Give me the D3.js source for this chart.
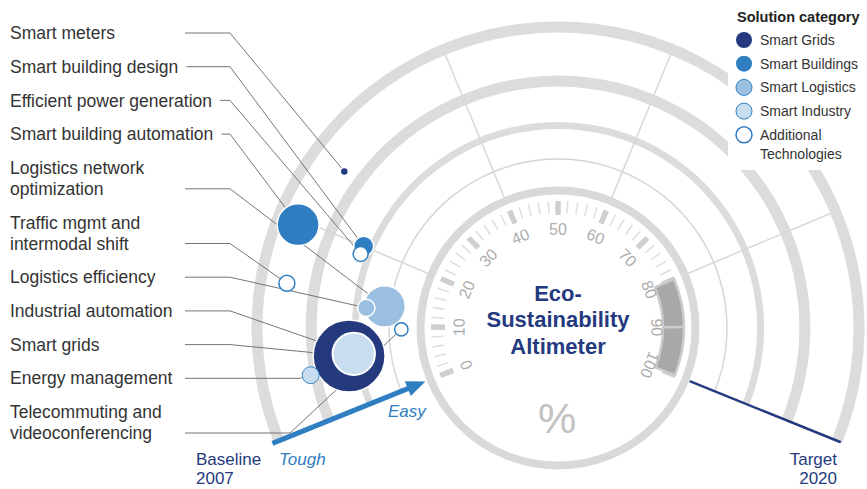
<!DOCTYPE html>
<html>
<head>
<meta charset="utf-8">
<script src="https://cdn.jsdelivr.net/npm/d3@7"></script>
<style>
  body { margin: 0; background: #fff; }
  svg { display: block; font-family: "Liberation Sans", Arial, Helvetica, sans-serif; }
</style>
</head>
<body>
<div id="chart"></div>
<script>
// Technologies, top to bottom as listed on the left
var technologies = ["Smart meters", "Smart building design", "Efficient power generation",
    "Smart building automation", "Logistics network\noptimization", "Traffic mgmt and\nintermodal shift",
    "Logistics efficiency", "Industrial automation", "Smart grids", "Energy management",
    "Telecommuting and\nvideoconferencing"];
var techCategory = ["Smart Grids", "Smart Buildings", "Additional Technologies", "Smart Buildings",
    "Smart Logistics", "Additional Technologies", "Smart Logistics", "Smart Industry",
    "Smart Grids", "Smart Industry", "Additional Technologies"];
// position on the altimeter dial (%), 0 = baseline 2007, 100 = target 2020
var progress = [26, 20, 19, 19.5, 13, 14, 12.5, 6.6, 6.4, 5, 9.6];
// distance from the dial: 0 = easy (inner), 100 = tough (outer)
var difficulty = [78, 45, 45, 87, 23, 84, 34, 42, 45, 70, 12];
// bubble size
var potential = [0.16, 1.0, 0.56, 4.4, 4.3, 0.64, 0.76, 4.5, 13, 0.72, 0.45];

var categories = ["Smart Grids", "Smart Buildings", "Smart Logistics", "Smart Industry", "Additional Technologies"];
var dialLabels = [0, 10, 20, 30, 40, 50, 60, 70, 80, 90, 100];
var ringLevels = [19.5, 40, 67, 100];
var sectorLines = [20, 40, 60, 80];

var width = 867, height = 489;
var cx = 558, cy = 328;
var dialR = 137.5;

var catFill = {"Smart Grids": "#253a7e", "Smart Buildings": "#2f7ec1", "Smart Logistics": "#9bbfe1",
    "Smart Industry": "#c8ddf0", "Additional Technologies": "#ffffff"};
var navy = "#253a7e", blue = "#2f7ec1";

var svg = d3.select("#chart").append("svg")
    .attr("width", width)
    .attr("height", height);

// scales
var angle = d3.scaleLinear().domain([0, 100]).range([-112, 112]);      // degrees from 12 o'clock
var radius = d3.scaleLinear().domain([0, 100]).range([137, 301]);
var size = d3.scaleSqrt().domain([0, 13]).range([0, 36]);
var rad = function(deg) { return deg * Math.PI / 180; };
function polar(p, r) {
    var a = rad(angle(p));
    return [cx + r * Math.sin(a), cy - r * Math.cos(a)];
}

var g = svg.append("g").attr("transform", "translate(" + cx + "," + cy + ")");

// concentric rings
var ringWidth = [1.5, 7, 11, 11];
ringLevels.forEach(function(lv, i) {
    var r = radius(lv);
    g.append("path")
        .attr("d", d3.arc()({innerRadius: r - ringWidth[i] / 2, outerRadius: r + ringWidth[i] / 2,
            startAngle: rad(angle(0)), endAngle: rad(angle(100))}))
        .attr("fill", i == 0 ? "#d6d6d6" : "#dcdcdc");
});

// sector separators
sectorLines.forEach(function(p) {
    g.append("line")
        .attr("transform", "rotate(" + angle(p) + ")")
        .attr("x1", 0).attr("y1", -dialR)
        .attr("x2", 0).attr("y2", -(radius(100) - 5))
        .attr("stroke", "#d9d9d9").attr("stroke-width", 1.5);
});

// dial
g.append("circle")
    .attr("r", dialR)
    .attr("fill", "#fff")
    .attr("stroke", "#d9d9d9")
    .attr("stroke-width", 8);

// ticks every 2%
d3.range(0, 101, 2).forEach(function(p) {
    var major = p % 10 == 0;
    g.append("line")
        .attr("transform", "rotate(" + angle(p) + ")")
        .attr("x1", 0).attr("y1", major ? -113 : -115)
        .attr("x2", 0).attr("y2", -127)
        .attr("stroke", major ? "#cfcfcf" : "#dedede")
        .attr("stroke-width", major ? 5.5 : 1.5);
});

// 80-100 band
g.append("path")
    .attr("d", d3.arc()({innerRadius: 105, outerRadius: 126,
        startAngle: rad(angle(80)), endAngle: rad(angle(100))}))
    .attr("fill", "#a8a8a8")
    .attr("stroke", "#cbcbcb")
    .attr("stroke-width", 2.5);
g.append("line")
    .attr("transform", "rotate(" + angle(90) + ")")
    .attr("x1", 0).attr("y1", -104).attr("x2", 0).attr("y2", -127)
    .attr("stroke", "#cbcbcb").attr("stroke-width", 2.5);

// dial numbers
dialLabels.forEach(function(p) {
    g.append("g")
        .attr("transform", "rotate(" + angle(p) + ") translate(0," + (-99) + ")")
        .append("text")
        .attr("text-anchor", "middle")
        .attr("dy", "0.35em")
        .attr("fill", "#adadad")
        .style("font-size", "16px")
        .text(p);
});

// title
["Eco-", "Sustainability", "Altimeter"].forEach(function(t, i) {
    g.append("text")
        .attr("x", 0).attr("y", -35 + i * 26.7)
        .attr("dy", "0.35em")
        .attr("text-anchor", "middle")
        .attr("fill", navy)
        .style("font-size", "22px")
        .style("font-weight", "bold")
        .text(t);
});
g.append("text")
    .attr("x", -1).attr("y", 90)
    .attr("dy", "0.35em")
    .attr("text-anchor", "middle")
    .attr("fill", "#c2c2c2")
    .style("font-size", "43px")
    .text("%");

// baseline arrow (tough -> easy)
var arrow = g.append("g").attr("transform", "rotate(" + angle(0) + ")");
arrow.append("line")
    .attr("x1", 0).attr("y1", -308)
    .attr("x2", 0).attr("y2", -158)
    .attr("stroke", blue).attr("stroke-width", 5);
arrow.append("path")
    .attr("d", "M0,-143 L-8,-162 L8,-162 Z")
    .attr("fill", blue);

// target line
g.append("line")
    .attr("transform", "rotate(" + angle(100) + ")")
    .attr("x1", 0).attr("y1", -142)
    .attr("x2", 0).attr("y2", -305)
    .attr("stroke", navy).attr("stroke-width", 2.5);

// end labels
function addText(x, y, t, color, anchor, italic) {
    svg.append("text")
        .attr("x", x).attr("y", y)
        .attr("dy", "0.35em")
        .attr("text-anchor", anchor)
        .attr("fill", color)
        .style("font-size", "17px")
        .style("font-style", italic ? "italic" : "normal")
        .text(t);
}
addText(196, 459, "Baseline", navy, "start");
addText(196, 478, "2007", navy, "start");
addText(837, 459, "Target", navy, "end");
addText(837, 478, "2020", navy, "end");
addText(279, 459, "Tough", blue, "start", true);
addText(388, 411, "Easy", blue, "start", true);

// bubbles data
var items = technologies.map(function(t, i) {
    var pos = polar(progress[i], radius(difficulty[i]));
    return {name: t, cat: techCategory[i], x: pos[0], y: pos[1], r: size(potential[i]), i: i};
});

// labels and leader lines
var elbowX = {"Energy management": 300, "Telecommuting and\nvideoconferencing": 290};
var leaders = svg.append("g");
var labels = svg.append("g");
var ly = 33;
items.forEach(function(d) {
    var lines = d.name.split("\n");
    var last = 0, lastY = ly;
    lines.forEach(function(l, k) {
        var txt = labels.append("text")
            .attr("x", 10).attr("y", ly + k * 21)
            .attr("dy", "0.35em")
            .attr("fill", "#333")
            .style("font-size", "17.5px")
            .text(l);
        if (k == lines.length - 1) { last = txt.node().getComputedTextLength(); lastY = ly + k * 21; }
    });
    var x0 = Math.max(185, 10 + last + 8);
    var ex = elbowX[d.name] || 230;
    leaders.append("path")
        .attr("d", "M" + x0 + "," + lastY + "L" + ex + "," + lastY + "L" + d.x + "," + d.y)
        .attr("fill", "none")
        .attr("stroke", "#666")
        .attr("stroke-width", 0.9);
    ly = lastY + 33.7;
});

// bubbles, biggest first
var sorted = items.slice().sort(function(a, b) { return b.r - a.r; });
sorted.forEach(function(d) {
    var inside = items.some(function(o) {
        return o.r > d.r && Math.hypot(o.x - d.x, o.y - d.y) + d.r < o.r + 1;
    });
    var stroke = "#fff", sw = 1.5;
    if (d.cat == "Additional Technologies") { stroke = blue; sw = 1.5; }
    else if (d.cat == "Smart Industry" && !inside) { stroke = "#3a86c6"; sw = 1; }
    else if (inside) { sw = 2; }
    svg.append("circle")
        .attr("cx", d.x).attr("cy", d.y).attr("r", d.r)
        .attr("fill", catFill[d.cat])
        .attr("stroke", stroke)
        .attr("stroke-width", sw);
});

// legend
var legend = svg.append("g");
legend.append("rect")
    .attr("x", 728).attr("y", 0).attr("width", 139).attr("height", 170)
    .attr("fill", "#fff");
legend.append("text")
    .attr("x", 737).attr("y", 17).attr("dy", "0.35em")
    .attr("fill", "#222")
    .style("font-size", "14.5px").style("font-weight", "bold")
    .text("Solution category");
categories.forEach(function(c, i) {
    var y = 40 + i * 23.7;
    legend.append("circle")
        .attr("cx", 744).attr("cy", y).attr("r", 8)
        .attr("fill", catFill[c])
        .attr("stroke", i < 2 ? "none" : blue)
        .attr("stroke-width", i == 4 ? 1.5 : 1);
    var words = c == "Additional Technologies" ? ["Additional", "Technologies"] : [c];
    words.forEach(function(w, k) {
        legend.append("text")
            .attr("x", 760).attr("y", y + k * 19.5).attr("dy", "0.35em")
            .attr("fill", "#333")
            .style("font-size", "14px")
            .text(w);
    });
});
</script>
</body>
</html>
